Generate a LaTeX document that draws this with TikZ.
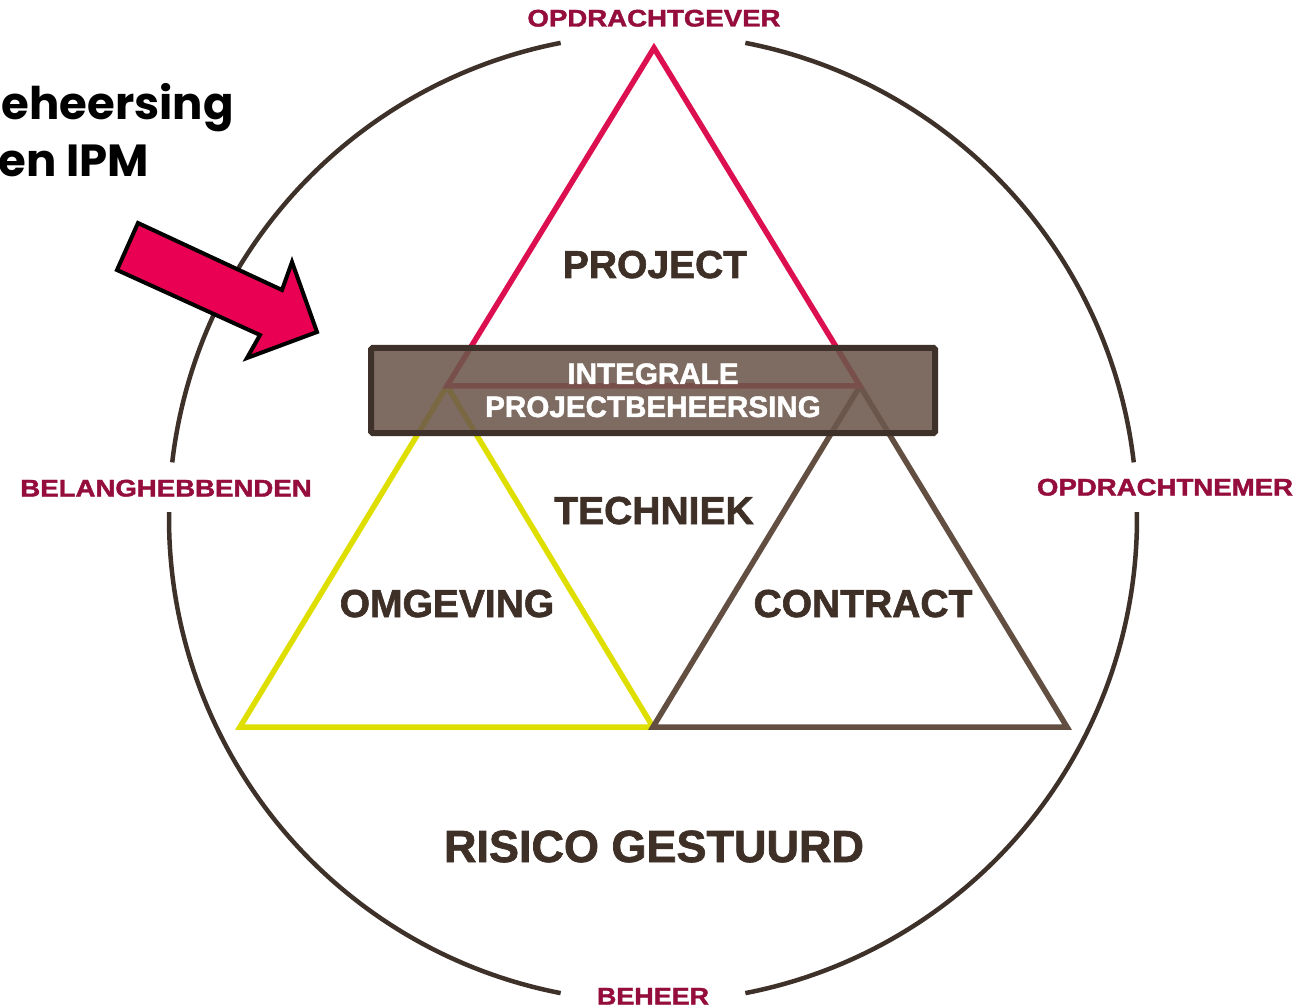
\documentclass[tikz,border=0pt]{standalone}
\usepackage{fontspec}
\usepackage{graphicx}
\setmainfont{Liberation Sans}[BoldFeatures={FakeBold=1.6}]
\newfontfamily\popfont{Poppins}
\definecolor{ringc}{RGB}{62,49,41}
\definecolor{redtri}{RGB}{220,15,80}
\definecolor{yeltri}{RGB}{222,222,0}
\definecolor{browntri}{RGB}{99,79,66}
\definecolor{boxfill}{RGB}{108,88,76}
\definecolor{boxline}{RGB}{62,49,41}
\definecolor{labred}{RGB}{148,13,60}
\definecolor{labdark}{RGB}{62,47,39}
\definecolor{arrowpink}{RGB}{233,0,82}
\begin{document}
\begin{tikzpicture}[x=1pt,y=1pt,
  ring/.style={draw=ringc,line width=4.5pt},
  tri/.style={line width=5.5pt,line join=miter},
  midlab/.style={anchor=base,inner sep=0pt,text=labdark,font=\fontsize{39}{39}\selectfont\bfseries},
  outlab/.style={anchor=base,inner sep=0pt,text=labred,font=\fontsize{24}{24}\selectfont\bfseries},
  boxlab/.style={anchor=base,inner sep=0pt,text=white,font=\fontsize{29.6}{29.6}\selectfont\bfseries},
  headlab/.style={anchor=base east,inner sep=0pt,text=black,font=\popfont\fontsize{45}{45}\selectfont\bfseries}]
\useasboundingbox (0,0) rectangle (1302,-1008);
% ring
\coordinate (C) at (653,-518);
\draw[ring] (C) ++(6.6:484) arc[start angle=6.6,end angle=79,radius=484];
\draw[ring] (C) ++(101:484) arc[start angle=101,end angle=173.4,radius=484];
\draw[ring] (C) ++(179.3:484) arc[start angle=179.3,end angle=259,radius=484];
\draw[ring] (C) ++(281:484) arc[start angle=281,end angle=360.7,radius=484];
% triangles
\coordinate (A) at (654,-48);
\coordinate (L) at (447,-386);
\coordinate (R) at (860,-386);
\coordinate (BL) at (240,-727);
\coordinate (BM) at (653,-727);
\coordinate (BR) at (1067,-727);
\draw[tri,draw=yeltri] (L) -- (BM) -- (BL) -- cycle;
\draw[tri,draw=browntri] (R) -- (BR) -- (BM) -- cycle;
\draw[tri,draw=redtri] (A) -- (R) -- (L) -- cycle;
% box
\draw[draw=boxline,line width=6pt,fill=boxfill,fill opacity=0.88,rounded corners=1.5pt]
  (371,-348) rectangle (935,-433);
\node[boxlab] (integ) at (653,-384) {INTEGRALE};
\node[boxlab] (pbh) at (653,-417) {PROJECTBEHEERSING};
% labels
\node[midlab] (project) at (655,-278) {PROJECT};
\node[midlab] (techniek) at (654,-524) {TECHNIEK};
\node[midlab] (omgeving) at (447,-617) {OMGEVING};
\node[midlab] (contract) at (863,-617) {CONTRACT};
\node[midlab,font=\fontsize{45}{45}\selectfont\bfseries] (risico) at (654,-862) {RISICO GESTUURD};
\node[outlab] (ogever) at (654,-26.5) {\scalebox{1.15}[1]{OPDRACHTGEVER}};
\node[outlab] (belang) at (166,-496.5) {\scalebox{1.15}[1]{BELANGHEBBENDEN}};
\node[outlab] (onemer) at (1165,-495.5) {\scalebox{1.15}[1]{OPDRACHTNEMER}};
\node[outlab] (beheer) at (653,-1004.5) {\scalebox{1.12}[1]{BEHEER}};
% heading
\node[headlab] (h1) at (234,-120) {eheersing};
\node[headlab] (h2) at (149,-177) {en IPM};
% arrow
\draw[fill=arrowpink,draw=black,line width=4pt,line join=miter]
  (138,-223) -- (282,-290) -- (292,-262) -- (317,-332) -- (247,-358) -- (260,-335) -- (117,-270) -- cycle;
\end{tikzpicture}
\end{document}
